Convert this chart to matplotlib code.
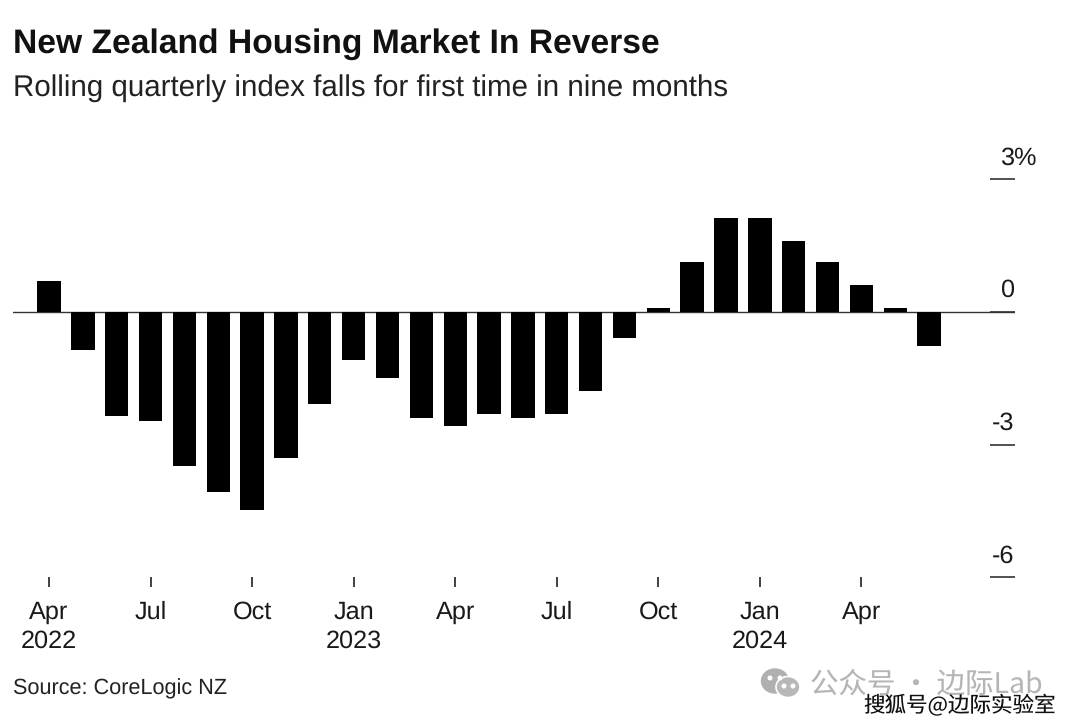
import matplotlib
matplotlib.use("Agg")
import matplotlib.pyplot as plt
from matplotlib.patches import Circle, Ellipse

months = ["Apr 2022","May 2022","Jun 2022","Jul 2022","Aug 2022","Sep 2022","Oct 2022","Nov 2022","Dec 2022",
          "Jan 2023","Feb 2023","Mar 2023","Apr 2023","May 2023","Jun 2023","Jul 2023","Aug 2023","Sep 2023",
          "Oct 2023","Nov 2023","Dec 2023","Jan 2024","Feb 2024","Mar 2024","Apr 2024","May 2024","Jun 2024"]
values = [0.70,-0.86,-2.36,-2.47,-3.49,-4.08,-4.48,-3.31,-2.09,
          -1.09,-1.50,-2.40,-2.58,-2.31,-2.40,-2.31,-1.79,-0.59,
          0.09,1.13,2.13,2.13,1.61,1.13,0.61,0.09,-0.77]
xtick_pos = [0,3,6,9,12,15,18,21,24]
xtick_labels = ["Apr\n2022","Jul","Oct","Jan\n2023","Apr","Jul","Oct","Jan\n2024","Apr"]
ytick_vals = [3,0,-3,-6]
ytick_labels = ["3%","0","-3","-6"]

W, H = 1080, 727
FONT = ["Liberation Sans", "DejaVu Sans"]
plt.rcParams["font.family"] = FONT
plt.rcParams["text.hinting"] = "no_hinting"
plt.rcParams["text.hinting_factor"] = 8
fig = plt.figure(figsize=(W/100, H/100), dpi=100, facecolor="white")
ax = fig.add_axes([13/W, 1-577.4/H, (1015-13)/W, (577-179)/H])
xs = list(range(len(values)))
ax.bar(xs, values, width=0.69, color="black", zorder=3)
ax.set_xlim((13-49)/33.85, (1015-49)/33.85)
ax.set_ylim(-6, 3)
for s in ax.spines.values():
    s.set_visible(False)
ax.axhline(0, color="#333333", lw=1.0, zorder=2)

ax.set_xticks(xtick_pos)
ax.set_xticklabels(xtick_labels, fontsize=18.2, color="#1a1a1a", linespacing=1.36)
ax.tick_params(axis="x", length=7.5, width=1.3, color="#333333", pad=9)
ax.set_yticks(ytick_vals)
ax.set_yticklabels([])
ax.tick_params(axis="y", left=False, right=True, direction="in", length=18, width=1.2, color="#333333")
for v, lab in zip(ytick_vals, ytick_labels):
    ha = "left" if lab.endswith("%") else "right"
    xoff = -11 if lab.endswith("%") else -0.5
    ax.annotate(lab, xy=(1, v), xycoords=("axes fraction", "data"), xytext=(xoff, 7),
                textcoords="offset points", ha=ha, va="bottom", fontsize=18.2, color="#1a1a1a",
                annotation_clip=False)

fig.text(13/W, 1-44.5/H, "New Zealand Housing Market In Reverse", fontsize=24.2, fontweight="bold",
         color="#111111", va="center", ha="left")
fig.text(13/W, 1-88.5/H, "Rolling quarterly index falls for first time in nine months", fontsize=21.27,
         color="#222222", va="center", ha="left")
fig.text(13/W, 1-689/H, "Source: CoreLogic NZ", fontsize=15.55, color="#222222", va="center", ha="left")

# watermarks
cjk = ["Noto Sans CJK SC", "DejaVu Sans"]
fig.text(810/W, 1-684/H, "公众号 · 边际Lab", fontsize=20.5, color="#b5b5b5", family=cjk, va="center", ha="left")
fig.text(863/W, 1-706/H, "搜狐号@边际实验室", fontsize=15.5, color="#111111", family=cjk, va="center", ha="left")

# wechat icon
ov = fig.add_axes([0, 0, 1, 1], facecolor="none")
ov.set_xlim(0, W); ov.set_ylim(H, 0); ov.axis("off")
ov.add_patch(Ellipse((775, 681), 27, 24, color="#b0b0b0"))
ov.add_patch(Ellipse((788, 687), 24, 21, color="#b8b8b8", ec="white", lw=1.2))
for cx, cy in [(770, 678), (780, 678), (784, 686), (793, 686)]:
    ov.add_patch(Circle((cx, cy), 1.8, color="white"))

fig.savefig("out.png", dpi=100, facecolor="white")
